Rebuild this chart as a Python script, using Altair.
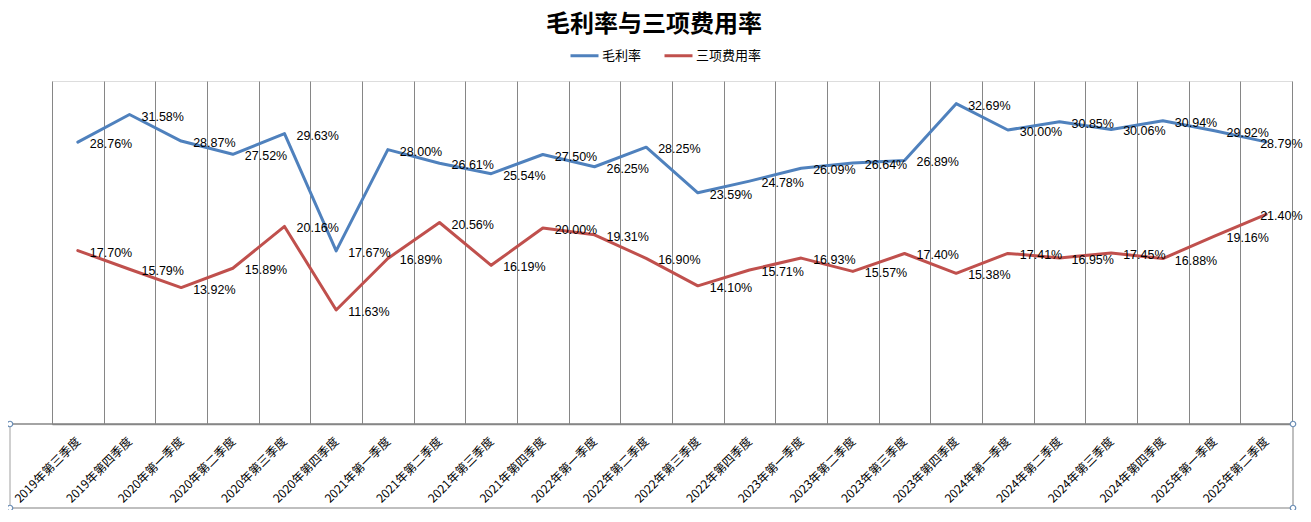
import altair as alt
import pandas as pd

quarters = [
    "2019年第三季度", "2019年第四季度", "2020年第一季度", "2020年第二季度",
    "2020年第三季度", "2020年第四季度", "2021年第一季度", "2021年第二季度",
    "2021年第三季度", "2021年第四季度", "2022年第一季度", "2022年第二季度",
    "2022年第三季度", "2022年第四季度", "2023年第一季度", "2023年第二季度",
    "2023年第三季度", "2023年第四季度", "2024年第一季度", "2024年第二季度",
    "2024年第三季度", "2024年第四季度", "2025年第一季度", "2025年第二季度",
]
series_names = ["毛利率", "三项费用率"]
gross_margin = [28.76, 31.58, 28.87, 27.52, 29.63, 17.67, 28.00, 26.61, 25.54, 27.50,
                26.25, 28.25, 23.59, 24.78, 26.09, 26.64, 26.89, 32.69, 30.00, 30.85,
                30.06, 30.94, 29.92, 28.79]
expense_ratio = [17.70, 15.79, 13.92, 15.89, 20.16, 11.63, 16.89, 20.56, 16.19, 20.00,
                 19.31, 16.90, 14.10, 15.71, 16.93, 15.57, 17.40, 15.38, 17.41, 16.95,
                 17.45, 16.88, 19.16, 21.40]
colors = ["#4F81BD", "#C0504D"]

n = len(quarters)
df = pd.DataFrame({
    "quarter": quarters * 2,
    "series": [series_names[0]] * n + [series_names[1]] * n,
    "value": gross_margin + expense_ratio,
    "idx": list(range(n)) * 2,
})

W, H = 1240, 343
PL, PT, PR, PB = 44, 73, 11, 86
CJK = "Noto Sans CJK SC"

x = alt.X(
    "quarter:N", sort=quarters,
    scale=alt.Scale(paddingInner=0, paddingOuter=0),
    axis=alt.Axis(
        title=None, labelAngle=-45, labelAlign="right", labelBaseline="middle",
        labelPadding=15, labelFont=CJK, labelFontSize=12, labelColor="#000000",
        grid=True, gridColor="#868686", gridWidth=1, tickBand="extent",
        ticks=False, domainColor="#868686", domainWidth=1.5, labelOverlap=False,
    ),
)
y = alt.Y("value:Q", scale=alt.Scale(domain=[0, 35], nice=False, zero=True), axis=None)
color = alt.Color(
    "series:N",
    scale=alt.Scale(domain=series_names, range=colors),
    legend=alt.Legend(
        title=None, orient="none", legendX=517, legendY=-41, direction="horizontal",
        symbolType="stroke", symbolSize=784, symbolStrokeWidth=3,
        labelFont=CJK, labelFontSize=13, labelColor="#000000",
        columnPadding=16, labelOffset=2, padding=0,
    ),
)

base = alt.Chart(df)
lines = base.mark_line(strokeWidth=3, strokeCap="round", strokeJoin="round").encode(
    x=x, y=y, color=color
)
lab_base = base.transform_calculate(
    label="format(datum.value, '.2f') + '%'"
)
labels_main = lab_base.transform_filter(f"datum.idx < {n - 1}").mark_text(
    align="left", baseline="middle", dx=12, dy=2, fontSize=12.5,
    font="Liberation Sans", color="#000000"
).encode(x=x, y=y, text="label:N")
labels_last = lab_base.transform_filter(f"datum.idx == {n - 1}").mark_text(
    align="left", baseline="middle", dx=-6, dy=2, fontSize=12.5,
    font="Liberation Sans", color="#000000"
).encode(x=x, y=y, text="label:N")

# decorative selection frame around the category axis
FB = H + 84
FL = -PL + 2
one = alt.Chart(pd.DataFrame({"a": [0]}))
frame_bottom = one.mark_rule(color="#BFBFBF", strokeWidth=2).encode(
    x=alt.value(FL), x2=alt.value(W + 1), y=alt.value(FB), y2=alt.value(FB))
frame_left = one.mark_rule(color="#A0A0A0", strokeWidth=1).encode(
    x=alt.value(FL), x2=alt.value(FL), y=alt.value(H), y2=alt.value(FB))
frame_right = one.mark_rule(color="#BFBFBF", strokeWidth=2).encode(
    x=alt.value(W + 1), x2=alt.value(W + 1), y=alt.value(H), y2=alt.value(FB))
frame_top = one.mark_rule(color="#868686", strokeWidth=1.5).encode(
    x=alt.value(FL), x2=alt.value(W + 1), y=alt.value(H), y2=alt.value(H))
handles = []
for hx, hy in [(FL, H), (FL, FB), (W + 1, H), (W + 1, FB)]:
    handles.append(one.mark_point(filled=True, fill="#FFFFFF", stroke="#6A8DB5",
                                  strokeWidth=1.2, size=30, opacity=1).encode(
        x=alt.value(hx), y=alt.value(hy)))

chart = alt.layer(
    frame_bottom, frame_left, frame_right, frame_top,
    lines, labels_main, labels_last, *handles,
).properties(
    width=W, height=H,
    title=alt.TitleParams("毛利率与三项费用率", font=CJK, fontSize=24, fontWeight="bold",
                          color="#000000", anchor="middle", dx=-18, dy=1),
    autosize=alt.AutoSizeParams(type="none"),
    padding={"left": PL, "top": PT, "right": PR, "bottom": PB},
).configure_view(stroke=None).configure(background="#FFFFFF")

chart.save("out.html", embed_options={"renderer": "svg", "actions": False})
